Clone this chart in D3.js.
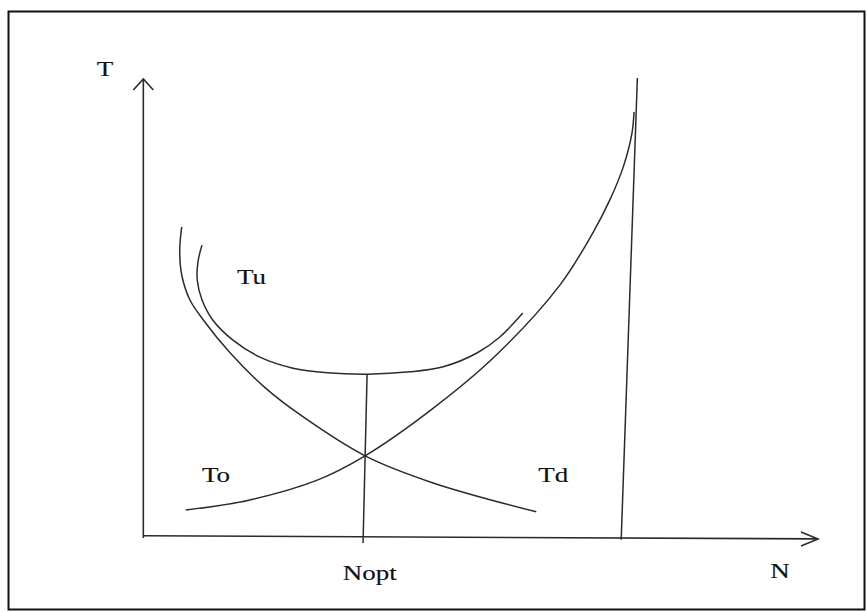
<!DOCTYPE html>
<html>
<head>
<meta charset="utf-8">
<script src="https://cdn.jsdelivr.net/npm/d3@7"></script>
<style>
  html, body { margin: 0; padding: 0; background: #fff; }
  svg { display: block; }
</style>
</head>
<body>
<div id="chart"></div>
<script>
// schematic curves (N across, T up, both 0..100)
const toN = [6.2, 15.7, 25.7, 32.8, 42.4, 51.8, 61.7, 66.6, 69.1, 71.1, 72.4, 72.7];
const toT = [6.1, 8.3, 12.6, 17.9, 27.7, 39.2, 55.1, 66.5, 73.6, 80.8, 88.2, 92.8];
const tdN = [5.6, 5.3, 5.6, 6.8, 8.8, 12.8, 18.0, 23.2, 32.8, 42.9, 58.2];
const tdT = [67.8, 62.8, 57.3, 51.9, 47.5, 40.3, 32.7, 26.8, 17.9, 12.0, 5.7];
const tuN = [8.6, 8.0, 7.9, 8.6, 10.2, 13.2, 17.2, 22.1, 27.2, 33.2, 39.5, 44.4, 49.4, 52.8, 56.2];
const tuT = [63.8, 60.1, 56.2, 51.9, 47.5, 43.1, 39.4, 37.0, 36.0, 35.7, 36.2, 37.3, 40.3, 43.8, 49.0];
const noptN = [33.1, 32.5];
const noptT = [35.7, -1.1];
const limitN = [73.2, 70.8];
const limitT = [100.2, -0.4];
const axisXN = [0, 100];
const axisXT = [0.5, -0.2];
const axisYN = [-0.1, -0.1];
const axisYT = [0, 100];
const labelText = ['T', 'Tu', 'To', 'Td', 'Nopt', 'N'];
const labelN = [-7.0, 13.8, 8.6, 58.5, 29.5, 92.9];
const labelT = [100.6, 55.3, 12.2, 12.2, -9.2, -8.7];

const W = 867, H = 612;
const svg = d3.select('#chart').append('svg').attr('width', W).attr('height', H);

svg.append('rect').attr('x', 8.5).attr('y', 11.5).attr('width', 856).attr('height', 598)
   .attr('fill', 'none').attr('stroke', '#111').attr('stroke-width', 2);

const x = d3.scaleLinear().domain([0, 100]).range([144, 818]);
const y = d3.scaleLinear().domain([0, 100]).range([538, 79]);

const pts = (ns, ts) => ns.map((n, i) => [n, ts[i]]);
const line = d3.line().x(d => x(d[0])).y(d => y(d[1]));
const smooth = d3.line().x(d => x(d[0])).y(d => y(d[1])).curve(d3.curveCatmullRom.alpha(0.5));

const ink = '#2b2b2b';

// axes
svg.append('path').attr('d', line(pts(axisYN, axisYT))).attr('fill', 'none').attr('stroke', ink).attr('stroke-width', 1.6);
svg.append('path').attr('d', line(pts(axisXN, axisXT))).attr('fill', 'none').attr('stroke', ink).attr('stroke-width', 1.6);

// arrow heads
const yTip = [x(axisYN[1]), y(axisYT[1])];
svg.append('path').attr('d', `M ${yTip[0] - 10} ${yTip[1] + 11} L ${yTip[0]} ${yTip[1]} L ${yTip[0] + 10} ${yTip[1] + 11}`)
   .attr('fill', 'none').attr('stroke', ink).attr('stroke-width', 1.6);
const xTip = [x(axisXN[1]), y(axisXT[1])];
svg.append('path').attr('d', `M ${xTip[0] - 17} ${xTip[1] - 7} L ${xTip[0]} ${xTip[1]} L ${xTip[0] - 17} ${xTip[1] + 7}`)
   .attr('fill', 'none').attr('stroke', ink).attr('stroke-width', 1.6);

// curves
[[toN, toT], [tdN, tdT], [tuN, tuT]].forEach(([ns, ts]) => {
    svg.append('path').attr('d', smooth(pts(ns, ts)))
       .attr('fill', 'none').attr('stroke', ink).attr('stroke-width', 1.5);
});

// vertical lines
[[noptN, noptT], [limitN, limitT]].forEach(([ns, ts]) => {
    svg.append('path').attr('d', line(pts(ns, ts)))
       .attr('fill', 'none').attr('stroke', ink).attr('stroke-width', 1.5);
});

// labels, stretched sideways like the picture
labelText.forEach((t, i) => {
    svg.append('text').text(t)
       .attr('transform', `translate(${x(labelN[i])},${y(labelT[i])}) scale(1.35,1)`)
       .attr('font-family', '"Liberation Serif", "DejaVu Serif", serif')
       .attr('font-size', 20).attr('fill', '#111')
       .attr('stroke', '#111').attr('stroke-width', 0.15);
});
</script>
</body>
</html>
